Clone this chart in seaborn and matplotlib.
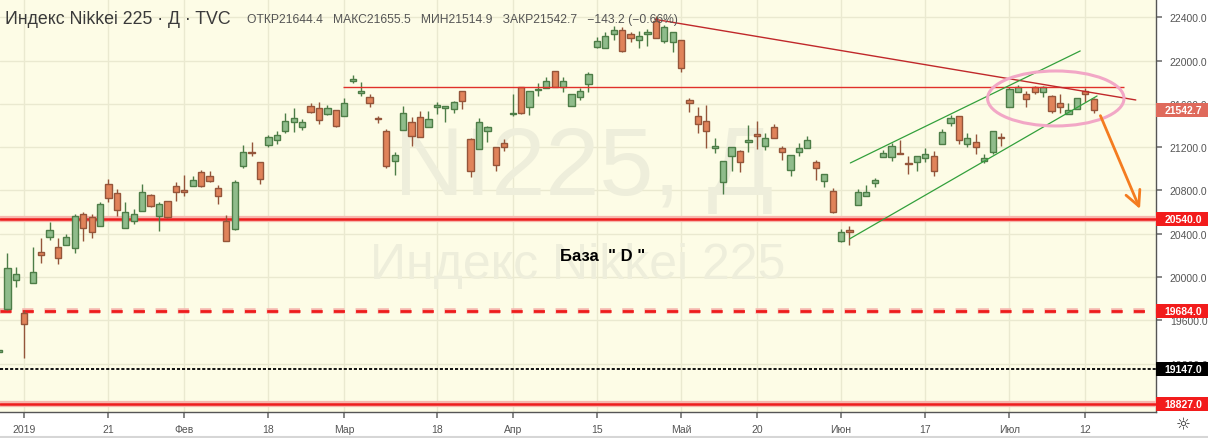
import numpy as np
import pandas as pd
import seaborn as sns
import matplotlib.pyplot as plt
from matplotlib.patches import Ellipse, Rectangle
from matplotlib.transforms import blended_transform_factory

# daily candles, Dec 26 2018 .. Jul 16 2019 (bar index = trading day)
opens = [19310, 19708, 19970, 19668, 19948, 20228, 20371, 20275, 20299, 20271,
         20580, 20552, 20475, 20857, 20774, 20456, 20515, 20607, 20758, 20561,
         20706, 20838, 20800, 20838, 20968, 20937, 20823, 20515, 20444, 21029,
         21153, 21060, 21223, 21263, 21352, 21430, 21384, 21578, 21559, 21509,
         21541, 21491, 21815, 21700, 21661, 21470, 21349, 21070, 21361, 21430,
         21476, 21384, 21575, 21565, 21550, 21716, 21273, 21180, 21352, 21199,
         21239, 21505, 21753, 21568, 21725, 21744, 21901, 21753, 21583, 21666,
         21784, 22128, 22113, 22243, 22280, 22246, 22193, 22243, 22369, 22184,
         22169, 22190, 21636, 21491, 21439, 21195, 20875, 21116, 21162, 21250,
         21318, 21214, 21384, 21190, 20986, 21153, 21190, 21066, 20884, 20795,
         20336, 20437, 20666, 20752, 20866, 21107, 21107, 21140, 21051, 21060,
         21097, 21116, 21229, 21421, 21491, 21229, 21245, 21075, 21158, 21291,
         21568, 21707, 21688, 21753, 21707, 21670, 21605, 21506, 21553, 21722,
         21644.4]
highs = [19345, 20219, 20096, 19698, 20275, 20358, 20505, 20358, 20398, 20582,
         20598, 20582, 20696, 20906, 20814, 20696, 20629, 20857, 20767, 20690,
         20706, 20881, 20942, 20931, 20992, 20980, 20851, 20576, 20897, 21220,
         21250, 21060, 21315, 21349, 21513, 21562, 21460, 21605, 21620, 21590,
         21541, 21654, 21870, 21799, 21691, 21485, 21368, 21153, 21583, 21476,
         21531, 21531, 21620, 21580, 21630, 21716, 21288, 21470, 21399, 21199,
         21276, 21691, 21753, 21716, 21793, 21851, 21901, 21851, 21688, 21744,
         21892, 22215, 22261, 22322, 22308, 22267, 22276, 22292, 22409, 22329,
         22261, 22190, 21652, 21568, 21590, 21282, 21070, 21199, 21177, 21405,
         21445, 21328, 21414, 21214, 21128, 21236, 21306, 21081, 20952, 20826,
         20444, 20469, 20814, 20851, 20915, 21174, 21239, 21266, 21121, 21121,
         21190, 21162, 21368, 21497, 21491, 21331, 21322, 21137, 21346, 21331,
         21759, 21775, 21719, 21768, 21768, 21682, 21694, 21605, 21652, 21744,
         21655.5]
lows = [19290, 19700, 19911, 19254, 19945, 20127, 20345, 20118, 20299, 20219,
        20336, 20358, 20475, 20690, 20567, 20450, 20487, 20607, 20644, 20422,
        20545, 20700, 20752, 20838, 20835, 20875, 20675, 20330, 20437, 21005,
        21116, 20860, 21204, 21232, 21331, 21337, 21361, 21519, 21414, 21497,
        21384, 21491, 21790, 21670, 21568, 21420, 21005, 20946, 21361, 21214,
        21291, 21384, 21506, 21436, 21513, 21553, 20927, 21180, 21250, 20983,
        21160, 21485, 21506, 21500, 21676, 21744, 21759, 21713, 21583, 21639,
        21713, 22113, 22113, 22193, 22077, 22175, 22113, 22138, 22206, 22163,
        22082, 21892, 21528, 21328, 21190, 21146, 20767, 20983, 20968, 21153,
        21183, 21177, 21285, 21084, 20937, 21121, 21190, 20899, 20829, 20594,
        20321, 20299, 20666, 20752, 20829, 21107, 21075, 21135, 20952, 20983,
        21060, 20937, 21229, 21399, 21229, 21199, 21137, 21054, 21137, 21214,
        21568, 21707, 21574, 21691, 21661, 21516, 21516, 21506, 21553, 21615,
        21514.9]
closes = [19330, 20087, 20025, 19570, 20044, 20206, 20432, 20173, 20367, 20561,
          20450, 20413, 20672, 20728, 20622, 20598, 20580, 20783, 20654, 20675,
          20558, 20783, 20790, 20894, 20844, 20885, 20752, 20336, 20875, 21153,
          21143, 20903, 21291, 21312, 21442, 21467, 21430, 21528, 21454, 21559,
          21393, 21608, 21830, 21720, 21605, 21460, 21029, 21131, 21513, 21300,
          21291, 21457, 21585, 21570, 21615, 21630, 20983, 21430, 21384, 21038,
          21204, 21515, 21513, 21716, 21735, 21808, 21759, 21814, 21688, 21722,
          21876, 22178, 22224, 22280, 22091, 22206, 22224, 22267, 22206, 22308,
          22261, 21929, 21608, 21411, 21347, 21205, 21070, 21199, 21066, 21258,
          21306, 21282, 21285, 21158, 21128, 21190, 21264, 21010, 20952, 20604,
          20419, 20413, 20783, 20783, 20897, 21143, 21208, 21135, 21042, 21121,
          21137, 20977, 21337, 21467, 21264, 21288, 21199, 21097, 21346, 21282,
          21737, 21759, 21642, 21707, 21753, 21537, 21568, 21543, 21652, 21691,
          21542.7]

tick_idx = [3, 13, 22, 32, 41, 52, 61, 71, 81, 90, 100, 110, 120, 129]
tick_labels = ["2019", "21", "Фев", "18", "Мар", "18", "Апр", "15",
               "Май", "20", "Июн", "17", "Июл", "12"]
price_ticks = [19200, 19600, 20000, 20400, 20800, 21200, 21600, 22000, 22400]

# drawn levels and tools
support_levels = [20540.0, 18827.0]
dashed_level = 19684.0
dotted_level = 19147.0
resist_level = 21753
resist_span = [40.9, 133.6]
trend_x = [77.9, 135.0]
trend_y = [22381, 21636]
chan_up_x = [101.1, 128.4]
chan_up_y = [21054, 22089]
chan_lo_x = [101.0, 130.4]
chan_lo_y = [20352, 21673]
arrow_from = (130.8, 21491)
arrow_to = (135.5, 20629)
ellipse_c = (125.5, 21650)
ellipse_wh = (16.2, 508)
price_tags = [(21542.7, "#df6a5c"), (20540.0, "#f21c1c"), (19684.0, "#f21c1c"),
              (19147.0, "#000000"), (18827.0, "#f21c1c")]

sns.set_theme(style="ticks")
plt.rcParams["font.family"] = ["Liberation Sans", "DejaVu Sans"]

df = pd.DataFrame({"open": opens, "high": highs, "low": lows, "close": closes})
df["i"] = np.arange(len(df))
df["up"] = df["close"] >= df["open"]

fig = plt.figure(figsize=(12.08, 4.39), dpi=100, facecolor="white")
ax = fig.add_axes([0, 26 / 439, 1156 / 1208, 413 / 439])
ax.set_facecolor("#fdfce6")

up_fill, up_edge = "#8fbc8b", "#4d7d47"
dn_fill, dn_edge = "#e0835a", "#94553a"
fills = np.where(df["up"], up_fill, dn_fill)
edges = np.where(df["up"], up_edge, dn_edge)

ax.vlines(df["i"], df["low"], df["high"], colors=edges, lw=1, zorder=5)
body = (df["close"] - df["open"]).abs().clip(lower=14)
ax.bar(df["i"], body, bottom=df[["open", "close"]].min(axis=1), width=0.74,
       color=fills, edgecolor=edges, linewidth=1, zorder=6)

ax.set_xlim(0.12, 137.4)
ax.set_ylim(18753, 22569)

ax.set_xticks(tick_idx, tick_labels)
ax.set_yticks(price_ticks)
ax.set_yticklabels([f"{v:.1f}" for v in price_ticks])
ax.yaxis.tick_right()
ax.grid(True, color="#eae9d0", lw=1, zorder=0)
ax.tick_params(axis="x", labelsize=7.5, labelcolor="#555555", color="#777777",
               length=4, pad=5)
ax.tick_params(axis="y", labelsize=7.5, labelcolor="#555555", color="#777777",
               length=4, pad=6)
for side in ["left", "top"]:
    ax.spines[side].set_visible(False)
for side in ["right", "bottom"]:
    ax.spines[side].set_color("#555555")
    ax.spines[side].set_linewidth(1)

# watermark
ax.text(0.505, 0.528, "NI225, Д", transform=ax.transAxes, fontsize=70,
        color="#eeeedb", ha="center", va="baseline", zorder=1)
ax.text(0.5, 0.324, "Индекс Nikkei 225", transform=ax.transAxes, fontsize=36,
        color="#eeeedb", ha="center", va="baseline", zorder=1)

# horizontal levels
for lv in support_levels:
    ax.axhline(lv, color="#f6b7ae", lw=4.5, zorder=3)
    ax.axhline(lv, color="#ee1c1c", lw=1.8, zorder=4)
ax.axhline(dashed_level, color="#f6b7ae", lw=4.0, dashes=(2.0, 2.0),
           solid_capstyle="butt", zorder=3)
ax.axhline(dashed_level, color="#ee1c1c", lw=2.0, dashes=(4.0, 4.0), zorder=4)
ax.axhline(dotted_level, color="#111111", lw=1.4, dashes=(1.6, 1.0), zorder=4)
ax.hlines(resist_level, resist_span[0], resist_span[1], color="#e0302a", lw=1, zorder=7)

# trend line, channel, ellipse, arrow
ax.plot(trend_x, trend_y, color="#c0282a", lw=1, zorder=7)
ax.plot(chan_up_x, chan_up_y, color="#33a03c", lw=0.9, zorder=7)
ax.plot(chan_lo_x, chan_lo_y, color="#33a03c", lw=0.9, zorder=7)
ax.add_patch(Ellipse(ellipse_c, ellipse_wh[0], ellipse_wh[1], fill=False,
                     edgecolor="#f2a7c6", lw=2.2, zorder=8))
ax.annotate("", xy=arrow_to, xytext=arrow_from,
            arrowprops=dict(arrowstyle="->,head_length=0.9,head_width=0.45",
                            color="#f47c20", lw=2.0, shrinkA=0, shrinkB=0),
            zorder=8)
ax.text(71.7, 20200, 'База  " D "', fontsize=12, fontweight="bold",
        color="black", ha="center", va="center", zorder=9)

# price tags on the right scale
blend = blended_transform_factory(ax.transAxes, ax.transData)
for val, col in price_tags:
    ax.add_patch(Rectangle((1.0, val - 65), 1208 / 1156 - 1.0, 130, transform=blend,
                           facecolor=col, edgecolor="none", clip_on=False, zorder=10))
    ax.text(1.0 + (1208 / 1156 - 1.0) / 2 + 0.001, val, f"{val:.1f}", transform=blend,
            fontsize=7.5, fontweight="bold", color="white", ha="center",
            va="center", clip_on=False, zorder=11)

# header
fig.text(5 / 1208, 1 - 20 / 439, "Индекс Nikkei 225 · Д · TVC", fontsize=12.8,
         color="#3a3a3a", va="center", zorder=12)
fig.text(247 / 1208, 1 - 20 / 439,
         "ОТКР21644.4   МАКС21655.5   МИН21514.9   ЗАКР21542.7   −143.2 (−0.66%)",
         fontsize=8.7, color="#555555", va="center", zorder=12)
fig.text(1183 / 1208, 1 - 425 / 439, "☼", family="DejaVu Sans", fontsize=12,
         color="#333333", ha="center", va="center")
fig.add_artist(plt.Line2D([0, 1], [1.5 / 439, 1.5 / 439], color="#d6d6d6", lw=1.5))

fig.savefig("out.png", dpi=100)
